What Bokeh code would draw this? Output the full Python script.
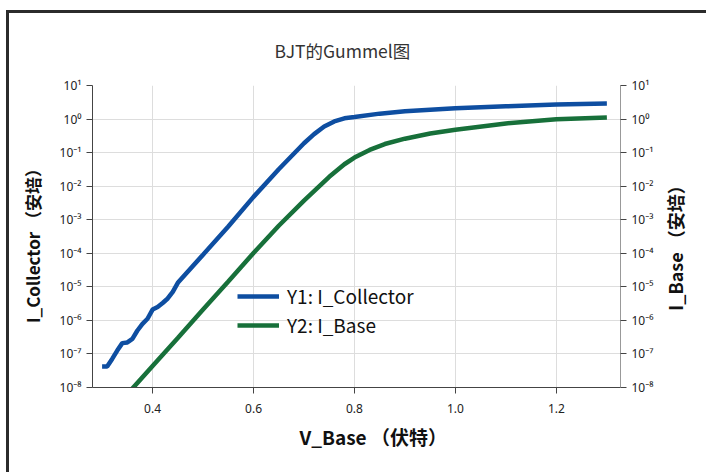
import math
from bokeh.plotting import figure
from bokeh.layouts import row
from bokeh.models import (Range1d, LogScale, LogAxis, FixedTicker, CustomJSTickFormatter,
                          Legend, LegendItem, PrintfTickFormatter, Title, Label)
from bokeh.embed import file_html
from bokeh.resources import INLINE

# ---- data ----
v_collector = [0.30, 0.31, 0.32, 0.33, 0.34, 0.35, 0.36, 0.37, 0.38, 0.39, 0.40, 0.41,
               0.42, 0.43, 0.44, 0.45, 0.50, 0.55, 0.60, 0.65, 0.70, 0.72, 0.74, 0.76,
               0.78, 0.80, 0.85, 0.90, 1.00, 1.10, 1.20, 1.30]
i_collector = [4.2e-8, 4.2e-8, 7.1e-8, 1.26e-7, 2.1e-7, 2.2e-7, 2.8e-7, 5.0e-7, 7.9e-7,
               1.12e-6, 2.1e-6, 2.5e-6, 3.3e-6, 4.5e-6, 7.1e-6, 1.32e-5, 9.1e-5, 6.3e-4,
               4.8e-3, 3.2e-2, 0.19, 0.355, 0.60, 0.85, 1.05, 1.15, 1.45, 1.7, 2.1, 2.4,
               2.7, 2.9]
v_base = [0.30, 0.36, 0.40, 0.45, 0.50, 0.55, 0.60, 0.65, 0.70, 0.75, 0.78, 0.80, 0.83,
          0.86, 0.90, 0.95, 1.00, 1.10, 1.20, 1.30]
i_base = [9.1e-10, 9.3e-9, 4.4e-8, 3.0e-7, 2.1e-6, 1.45e-5, 1.02e-4, 6.6e-4, 3.7e-3,
          1.9e-2, 4.5e-2, 7.1e-2, 0.12, 0.18, 0.26, 0.37, 0.48, 0.74, 0.98, 1.12]

x_ticks = [0.4, 0.6, 0.8, 1.0, 1.2]
y_ticks = [1e-8, 1e-7, 1e-6, 1e-5, 1e-4, 1e-3, 1e-2, 1e-1, 1e0, 1e1]

title_text = "BJT的Gummel图"
x_label = "V_Base （伏特）"
y_label_left = "I_Collector （安培）"
y_label_right = "I_Base （安培）"
name_collector = "Y1: I_Collector"
name_base = "Y2: I_Base"

FONT = "Noto Sans CJK SC"
TICK_FONT = "Noto Sans"
BLUE = "#0e4ea1"
GREEN = "#17703a"
H = 459

p = figure(width=606, height=H,
           x_range=Range1d(0.281, 1.327), y_range=Range1d(1e-8, 10),
           y_axis_type="log", output_backend="svg", toolbar_location=None,
           min_border_left=38, min_border_right=40, min_border_top=71, min_border_bottom=85)
p.extra_y_ranges = {"right": Range1d(1e-8, 10)}
p.extra_y_scales = {"right": LogScale()}

p.outline_line_color = None
p.background_fill_color = "white"
p.border_fill_color = "white"

p.title.text = title_text
p.title.align = "left"
p.title.offset = 182
p.title.text_font = FONT
p.title.text_font_size = "17.5px"
p.title.text_font_style = "normal"
p.title.text_color = "#333333"
p.title.standoff = 45

fmt_code = """
const sup = {"-": "\u207b", "0": "\u2070", "1": "\u00b9", "2": "\u00b2", "3": "\u00b3",
             "4": "\u2074", "5": "\u2075", "6": "\u2076", "7": "\u2077", "8": "\u2078", "9": "\u2079"};
const e = Math.round(Math.log10(tick));
return "10" + String(e).split("").map(c => sup[c]).join("");
"""

# bottom axis
xa = p.xaxis[0]
xa.ticker = FixedTicker(ticks=x_ticks)
xa.formatter = PrintfTickFormatter(format="%.1f")
# left axis
ya = p.yaxis[0]
ya.ticker = FixedTicker(ticks=y_ticks)
ya.formatter = CustomJSTickFormatter(code=fmt_code)

# right axis
ra = LogAxis(y_range_name="right", ticker=FixedTicker(ticks=y_ticks),
             formatter=CustomJSTickFormatter(code=fmt_code))
p.add_layout(ra, "right")

for ax in (xa, ya, ra):
    ax.minor_tick_line_color = None
    ax.major_tick_out = 6
    ax.major_tick_in = 0
    ax.axis_line_color = "#444444"
    ax.major_tick_line_color = "#444444"
    ax.major_label_text_font = TICK_FONT
    ax.major_label_text_font_size = "12px"
    ax.major_label_text_color = "#222222"
ra.axis_line_color = "#999999"
xa.major_label_standoff = 10

# x axis title as a side title so it can be nudged
t_x = Title(text=x_label, align="left", offset=207, standoff=10, text_font=FONT,
            text_font_size="19px", text_font_style="bold", text_color="#111111")
p.add_layout(t_x, "below")

p.xgrid.ticker = FixedTicker(ticks=x_ticks)
p.ygrid.ticker = FixedTicker(ticks=y_ticks)
p.xgrid.grid_line_color = "#dddddd"
p.ygrid.grid_line_color = "#dddddd"

r1 = p.line(v_collector, i_collector, line_color=BLUE, line_width=4.5)
r2 = p.line(v_base, i_base, line_color=GREEN, line_width=4.5, y_range_name="right")

legend = Legend(items=[LegendItem(label=name_collector, renderers=[r1]),
                       LegendItem(label=name_base, renderers=[r2])],
                location=(141, 45), background_fill_alpha=0, border_line_alpha=0,
                label_text_font=FONT, label_text_font_size="19px", label_text_color="#111111",
                glyph_width=42, glyph_height=24, label_height=24, label_standoff=8,
                spacing=2, padding=4, margin=0)
p.add_layout(legend, "center")


def side_strip(width, text, sx, sy, size):
    s = figure(width=width, height=H, x_range=Range1d(0, 1), y_range=Range1d(0, 1),
               output_backend="svg", toolbar_location=None, min_border=0,
               x_axis_location=None, y_axis_location=None)
    s.xgrid.visible = False
    s.ygrid.visible = False
    s.outline_line_color = None
    s.background_fill_color = "white"
    s.border_fill_color = "white"
    s.add_layout(Label(x=sx, y=sy, x_units="screen", y_units="screen", text=text,
                       angle=math.pi / 2, text_align="center", text_baseline="middle",
                       text_font=FONT, text_font_size=size, text_font_style="bold",
                       text_color="#111111"))
    return s


# strip frames are aligned with the main frame (84..387), y measured from its bottom
p_left = side_strip(45, y_label_left, 23, 146, "17px")
p_right = side_strip(46, y_label_right, 14, 144, "18px")

layout = row(p_left, p, p_right, spacing=0,
             styles={"margin-left": "6px", "margin-top": "10px",
                     "border-left": "3px solid #2b2b2b", "border-top": "3px solid #2b2b2b"})

open("out.html", "w").write(file_html(layout, INLINE))
